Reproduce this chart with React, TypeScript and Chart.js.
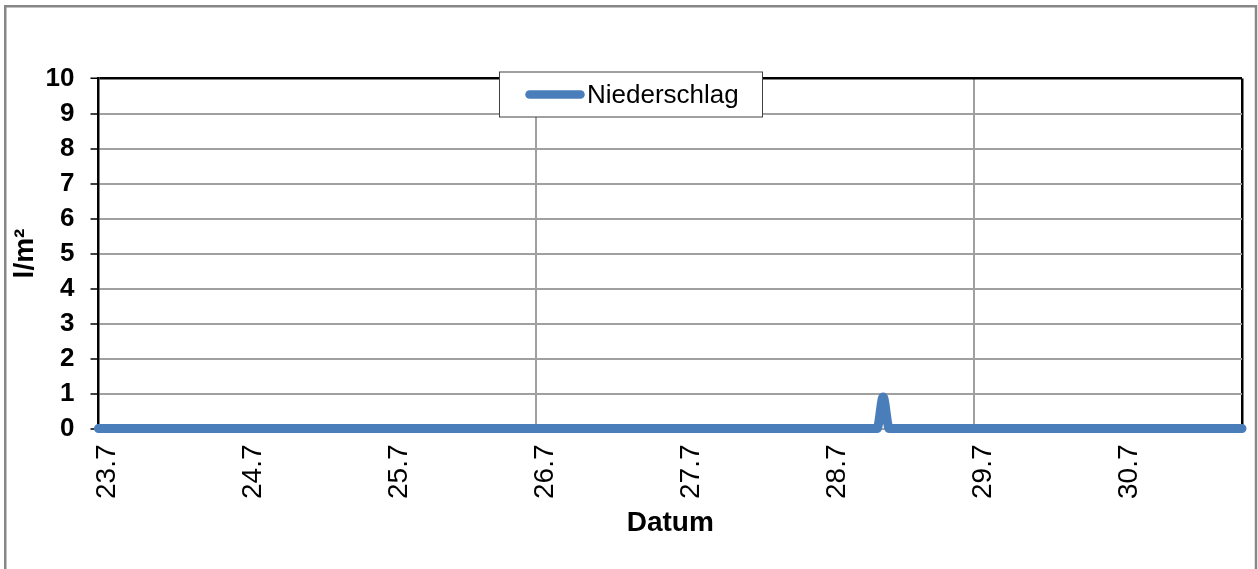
import React, { useEffect, useRef } from 'react';
import { Chart, registerables } from 'chart.js';

Chart.register(...registerables);

// ---- data ----
const dayLabels: string[] = ['23.7', '24.7', '25.7', '26.7', '27.7', '28.7', '29.7', '30.7'];
const hoursPerDay = 24;
const seriesName = 'Niederschlag';
const yTitle = 'l/m²';
const xTitle = 'Datum';
const yTicks: number[] = [0, 1, 2, 3, 4, 5, 6, 7, 8, 9, 10];

// hourly precipitation (l/m²), 23.7 00:00 … 30.7 20:00
const precipitation: number[] = [
  0, 0, 0, 0, 0, 0, 0, 0, 0, 0, 0, 0, 0, 0, 0, 0, 0, 0, 0, 0, 0, 0, 0, 0,
  0, 0, 0, 0, 0, 0, 0, 0, 0, 0, 0, 0, 0, 0, 0, 0, 0, 0, 0, 0, 0, 0, 0, 0,
  0, 0, 0, 0, 0, 0, 0, 0, 0, 0, 0, 0, 0, 0, 0, 0, 0, 0, 0, 0, 0, 0, 0, 0,
  0, 0, 0, 0, 0, 0, 0, 0, 0, 0, 0, 0, 0, 0, 0, 0, 0, 0, 0, 0, 0, 0, 0, 0,
  0, 0, 0, 0, 0, 0, 0, 0, 0, 0, 0, 0, 0, 0, 0, 0, 0, 0, 0, 0, 0, 0, 0, 0,
  0, 0, 0, 0, 0, 0, 0, 0, 0, 0.9, 0, 0, 0, 0, 0, 0, 0, 0, 0, 0, 0, 0, 0, 0,
  0, 0, 0, 0, 0, 0, 0, 0, 0, 0, 0, 0, 0, 0, 0, 0, 0, 0, 0, 0, 0, 0, 0, 0,
  0, 0, 0, 0, 0, 0, 0, 0, 0, 0, 0, 0, 0, 0, 0, 0, 0, 0, 0, 0, 0,
];

const categories: string[] = precipitation.map((_, i) => {
  const d = dayLabels[Math.floor(i / hoursPerDay)];
  const h = i % hoursPerDay;
  return `${d} ${String(h).padStart(2, '0')}:00`;
});

const FONT = 'Arial, "Liberation Sans", sans-serif';
const LINE_COLOR = '#4a7ebb';
const GRID_COLOR = '#a0a0a0';

const W = 1258;
const H = 569;
const PLOT_LEFT = 98.5;
const PLOT_RIGHT = 1242;
const PLOT_TOP = 78.5;
const PLOT_BOTTOM = 428.5;

const framePlugin = {
  id: 'frame',
  beforeDraw(chart: any) {
    const ctx = chart.ctx;
    ctx.save();
    ctx.strokeStyle = '#878787';
    ctx.lineWidth = 2.5;
    ctx.beginPath();
    ctx.moveTo(5.25, H + 2);
    ctx.lineTo(5.25, 6.25);
    ctx.lineTo(1256, 6.25);
    ctx.lineTo(1256, H + 2);
    ctx.stroke();
    ctx.restore();
  },
};

const legendPlugin = {
  id: 'boxLegend',
  afterDraw(chart: any) {
    const ctx = chart.ctx;
    ctx.save();
    const x0 = 499.5, y0 = 72, x1 = 762.5, y1 = 117;
    ctx.fillStyle = '#ffffff';
    ctx.fillRect(x0, y0, x1 - x0, y1 - y0);
    ctx.strokeStyle = '#404040';
    ctx.lineWidth = 1;
    ctx.strokeRect(x0, y0, x1 - x0, y1 - y0);
    const cy = 94.5;
    ctx.strokeStyle = LINE_COLOR;
    ctx.lineWidth = 8.5;
    ctx.lineCap = 'round';
    ctx.beginPath();
    ctx.moveTo(529.5, cy);
    ctx.lineTo(580.5, cy);
    ctx.stroke();
    ctx.fillStyle = '#000000';
    ctx.font = `26px ${FONT}`;
    ctx.textBaseline = 'middle';
    ctx.textAlign = 'left';
    ctx.fillText(seriesName, 587, cy + 1);
    ctx.restore();
  },
};

export default function App() {
  const ref = useRef<HTMLCanvasElement | null>(null);

  useEffect(() => {
    if (!ref.current) return;
    const chart = new Chart(ref.current, {
      type: 'line',
      data: {
        labels: categories,
        datasets: [
          {
            label: seriesName,
            data: precipitation,
            borderColor: LINE_COLOR,
            backgroundColor: LINE_COLOR,
            borderWidth: 9,
            borderCapStyle: 'round',
            borderJoinStyle: 'round',
            pointRadius: 0,
            pointHoverRadius: 0,
            tension: 0.4,
            cubicInterpolationMode: 'monotone',
            fill: false,
            clip: false as any,
          },
        ],
      },
      options: {
        responsive: false,
        animation: false,
        events: [],
        layout: {
          padding: { left: 0, top: PLOT_TOP, right: W - PLOT_RIGHT, bottom: 0 },
        },
        plugins: {
          legend: { display: false },
          tooltip: { enabled: false },
          title: { display: false },
        },
        scales: {
          x: {
            type: 'category',
            offset: false,
            afterFit(scale: any) {
              scale.height = H - PLOT_BOTTOM;
              scale.paddingLeft = 0;
              scale.paddingRight = 0;
            },
            border: { display: false },
            grid: {
              drawTicks: false,
              color: (c: any) => {
                const i = c.index;
                if (i === precipitation.length - 1) return '#000000';
                if (i > 0 && i % (hoursPerDay * 3) === 0) return GRID_COLOR;
                return 'rgba(0,0,0,0)';
              },
              lineWidth: (c: any) => (c.index === precipitation.length - 1 ? 2.5 : 2),
            },
            ticks: {
              autoSkip: false,
              minRotation: 90,
              maxRotation: 90,
              padding: 16,
              labelOffset: 9,
              color: '#000000',
              font: { family: FONT, size: 28 },
              callback: (_v: any, i: number) =>
                i % hoursPerDay === 0 ? dayLabels[i / hoursPerDay] : '',
            },
            title: {
              display: true,
              text: xTitle,
              color: '#000000',
              font: { family: FONT, size: 28, weight: 'bold' },
              padding: { top: 0, bottom: 29 },
            },
          },
          y: {
            min: yTicks[0],
            max: yTicks[yTicks.length - 1],
            afterFit(scale: any) {
              scale.width = PLOT_LEFT;
            },
            afterBuildTicks(scale: any) {
              scale.ticks = yTicks.map((v) => ({ value: v }));
            },
            border: { display: true, color: '#000000', width: 2.5 },
            grid: {
              drawTicks: true,
              tickLength: 8,
              tickColor: '#000000',
              tickWidth: 1.5,
              color: (c: any) => (c.tick && c.tick.value === 10 ? '#000000' : GRID_COLOR),
              lineWidth: (c: any) => (c.tick && c.tick.value === 10 ? 2.5 : 2),
            },
            ticks: {
              padding: 16,
              color: '#000000',
              font: { family: FONT, size: 26, weight: 'bold' },
            },
            title: {
              display: true,
              text: yTitle,
              color: '#000000',
              font: { family: FONT, size: 28, weight: 'bold' },
              padding: { top: 8, bottom: 0 },
            },
          },
        },
      },
      plugins: [framePlugin, legendPlugin],
    } as any);
    return () => chart.destroy();
  }, []);

  return (
    <div style={{ position: 'absolute', left: 0, top: 0, width: W, height: H, background: '#fff' }}>
      <canvas ref={ref} width={W} height={H} style={{ display: 'block', width: W, height: H }} />
    </div>
  );
}
